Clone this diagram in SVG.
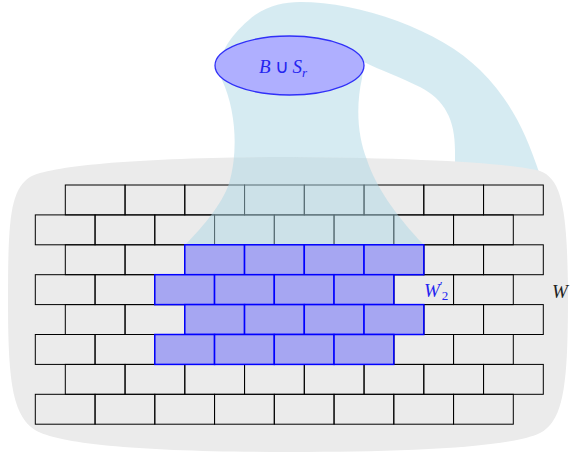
<svg xmlns="http://www.w3.org/2000/svg" xmlns:xlink="http://www.w3.org/1999/xlink" width="570" height="453" viewBox="0 0 570 453">
<style>
.tint{fill:#add8e6;fill-opacity:0.5;stroke:none}
.blob{fill:#ebebeb;stroke:none}
.brick{fill:none;stroke:#000;stroke-width:1}
.bbrick{fill:#a6a6f2;stroke:#0000ff;stroke-width:1.5}
.math{font-family:"Liberation Serif",serif;font-size:19px}
.it{font-style:italic}
.blue{fill:#2424f0}
.dark{fill:#222}
</style>
<defs>
<path id="blobShape" d="M290,157 C420,158 510,163 540,171 C562,179 567,210 568,290 C568,380 565,420 540,433 C510,448 400,452 290,452 C150,452 60,445 35,430 C12,415 8,380 8,300 C8,220 10,190 30,177 C50,165 150,157 290,157 Z"/>
<clipPath id="blobClip"><use xlink:href="#blobShape"/></clipPath>
<g id="row">
<rect class="brick" x="0" y="0" width="59.75" height="29.9"/>
<rect class="brick" x="59.75" y="0" width="59.75" height="29.9"/>
<rect class="brick" x="119.5" y="0" width="59.75" height="29.9"/>
<rect class="brick" x="179.25" y="0" width="59.75" height="29.9"/>
<rect class="brick" x="239" y="0" width="59.75" height="29.9"/>
<rect class="brick" x="298.75" y="0" width="59.75" height="29.9"/>
<rect class="brick" x="358.5" y="0" width="59.75" height="29.9"/>
<rect class="brick" x="418.25" y="0" width="59.75" height="29.9"/>
</g>
<g id="brow">
<rect class="bbrick" x="0" y="0" width="59.75" height="29.9"/>
<rect class="bbrick" x="59.75" y="0" width="59.75" height="29.9"/>
<rect class="bbrick" x="119.5" y="0" width="59.75" height="29.9"/>
<rect class="bbrick" x="179.25" y="0" width="59.75" height="29.9"/>
</g>
</defs>

<g id="connectors">
<path id="arch" class="tint" d="M220,75 C215,55 235,30 255,15 C270,5 285,2 300,2 C360,2 440,30 480,70 C510,100 525,130 540,175 L455,175 L455,150 C455,120 445,100 420,87 C400,77 380,70 364,62 L362,78 C356,105 357,135 367,160 C375,185 395,215 424,245 L185,245 C205,225 225,200 230,180 C238,150 236,110 222,80 Z"/>
</g>

<g id="region-W">
<use xlink:href="#blobShape" class="blob"/>
</g>

<g id="wall">
<use xlink:href="#row" x="65.3" y="185"/>
<use xlink:href="#row" x="35.3" y="214.9"/>
<use xlink:href="#row" x="65.3" y="244.8"/>
<use xlink:href="#row" x="35.3" y="274.7"/>
<use xlink:href="#row" x="65.3" y="304.6"/>
<use xlink:href="#row" x="35.3" y="334.5"/>
<use xlink:href="#row" x="65.3" y="364.4"/>
<use xlink:href="#row" x="35.3" y="394.3"/>
</g>

<g id="tube" clip-path="url(#blobClip)">
<path class="tint" d="M222,80 L362,78 C356,105 357,135 367,160 C375,185 395,215 424,245 L185,245 C205,225 225,200 230,180 C238,150 236,110 222,80 Z"/>
</g>

<g id="node-W2prime">
<use xlink:href="#brow" x="184.8" y="244.8"/>
<use xlink:href="#brow" x="154.8" y="274.7"/>
<use xlink:href="#brow" x="184.8" y="304.6"/>
<use xlink:href="#brow" x="154.8" y="334.5"/>
<text class="math blue" x="424" y="297"><tspan class="it">W</tspan><tspan font-size="13" dy="-7">′</tspan><tspan font-size="13" dx="-1" dy="10">2</tspan></text>
</g>

<g id="node-BSr">
<ellipse cx="289.5" cy="65.5" rx="74.5" ry="29.5" fill="#afafff" stroke="#3030f8" stroke-width="1.3"/>
<text class="math blue" x="259" y="73"><tspan class="it">B</tspan><tspan dx="4">∪</tspan><tspan dx="4" class="it">S</tspan><tspan class="it" font-size="13" dy="4">r</tspan></text>
</g>

<g id="label-W">
<text class="math dark it" x="552" y="298">W</text>
</g>
</svg>
